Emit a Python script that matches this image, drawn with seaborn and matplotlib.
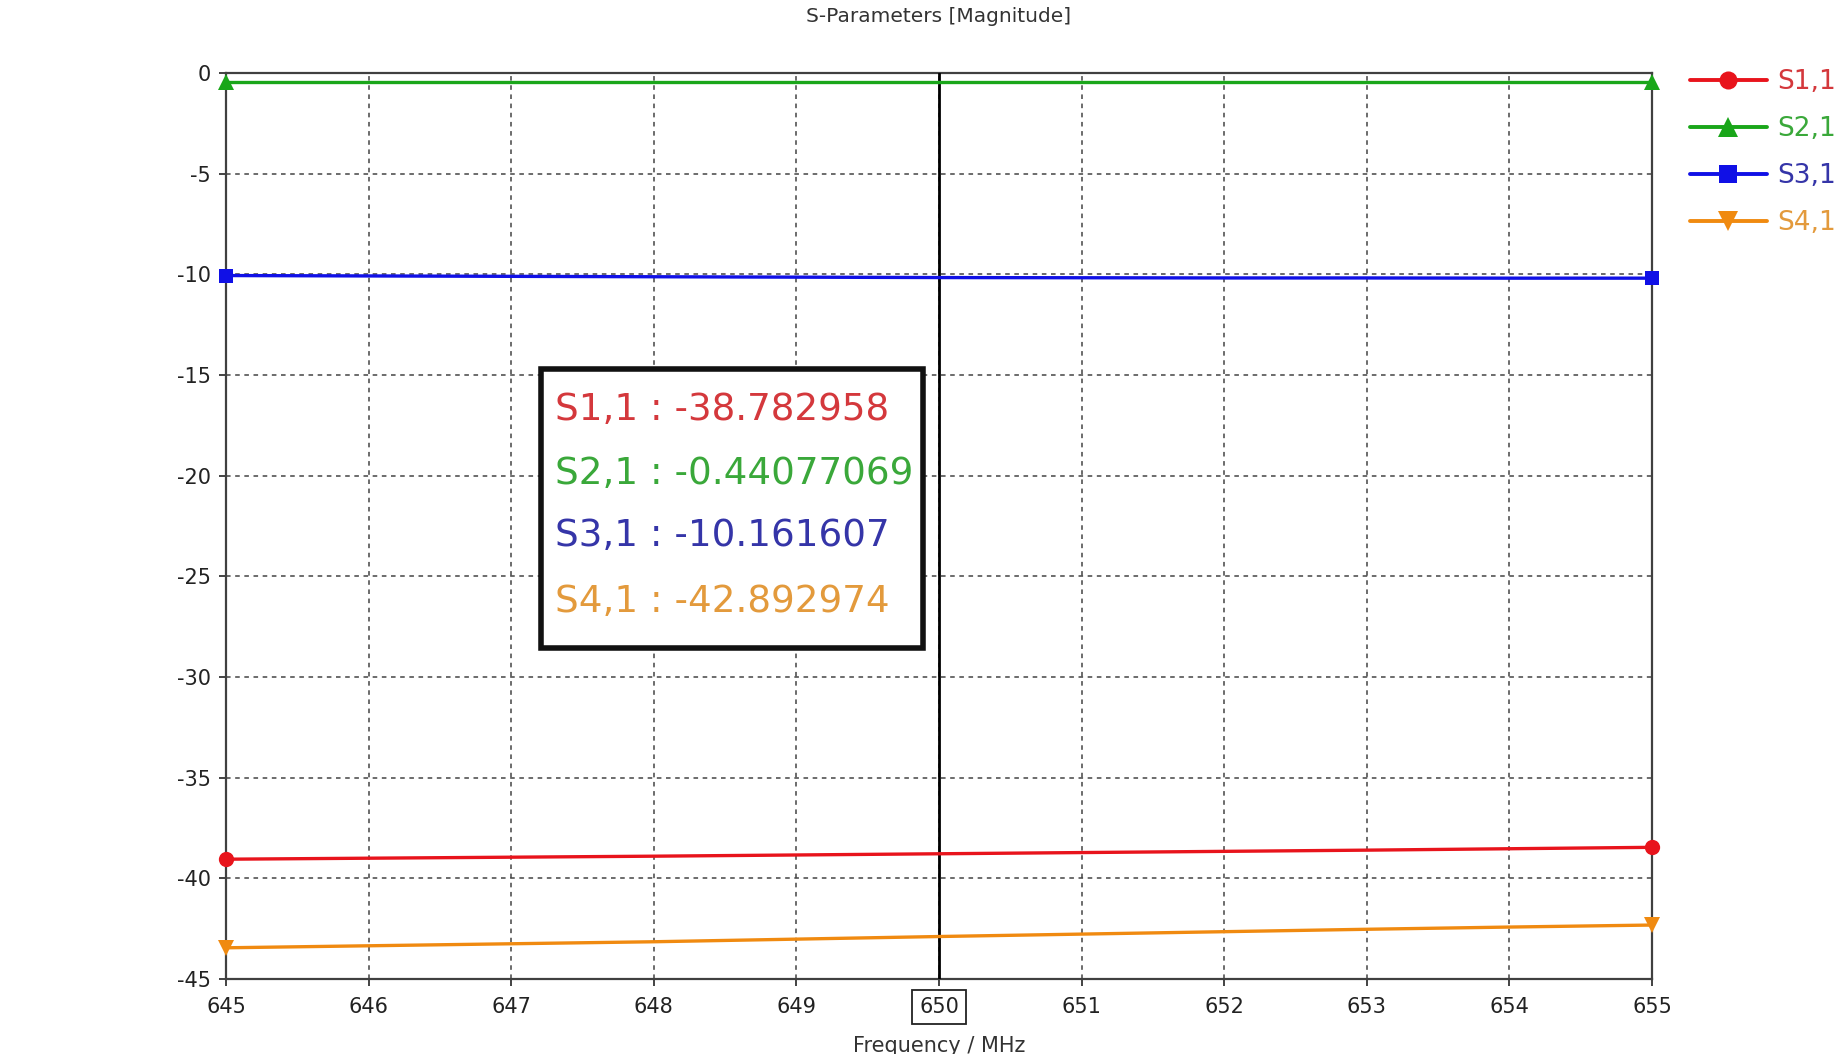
import matplotlib
matplotlib.use("Agg")
import matplotlib.pyplot as plt
from matplotlib.lines import Line2D
from matplotlib.patches import Rectangle
import seaborn as sns
import pandas as pd

# ---------------- data ----------------
freq = [645, 646, 647, 648, 649, 650, 651, 652, 653, 654, 655]
s11 = [-39.05, -39.00, -38.95, -38.90, -38.84, -38.78, -38.72, -38.66, -38.60, -38.53, -38.46]
s21 = [-0.44, -0.44, -0.44, -0.44, -0.44, -0.44, -0.44, -0.44, -0.44, -0.44, -0.44]
s31 = [-10.06, -10.08, -10.10, -10.12, -10.14, -10.16, -10.17, -10.18, -10.18, -10.19, -10.19]
s41 = [-43.45, -43.35, -43.25, -43.15, -43.02, -42.89, -42.77, -42.65, -42.53, -42.42, -42.32]

series_names = ["S1,1", "S2,1", "S3,1", "S4,1"]
series_values = [s11, s21, s31, s41]
marker_readout = ["-38.782958", "-0.44077069", "-10.161607", "-42.892974"]
marker_freq = 650

x_ticks = [645, 646, 647, 648, 649, 650, 651, 652, 653, 654, 655]
x_tick_labels = ["645", "646", "647", "648", "649", "650", "651", "652", "653", "654", "655"]
y_ticks = [0, -5, -10, -15, -20, -25, -30, -35, -40, -45]
y_tick_labels = ["0", "-5", "-10", "-15", "-20", "-25", "-30", "-35", "-40", "-45"]

title = "S-Parameters [Magnitude]"
x_label = "Frequency / MHz"

# ---------------- style ----------------
line_colors = ["#e8141c", "#19a619", "#1010e6", "#f08a10"]
text_colors = ["#d4383c", "#3aa83a", "#3535a8", "#e39a3c"]
markers = ["o", "^", "s", "v"]
msizes = [11, 12, 10.5, 12]

sns.set_theme(style="white")
plt.rcParams["font.family"] = ["DejaVu Sans"]

W, H = 1844, 1054
fig = plt.figure(figsize=(W / 100, H / 100), dpi=100)
L, R, T, B = 226, 1652, 73, 979
ax = fig.add_axes([L / W, 1 - B / H, (R - L) / W, (B - T) / H])

df = pd.DataFrame({"freq": freq * 4,
                   "value": [v for vals in series_values for v in vals],
                   "series": [n for n in series_names for _ in freq]})

for name, col, mk, ms in zip(series_names, line_colors, markers, msizes):
    sub = df[df["series"] == name]
    sns.lineplot(data=sub, x="freq", y="value", ax=ax, color=col, linewidth=2.4,
                 marker=mk, markersize=ms, markeredgewidth=0, markevery=[0, len(sub) - 1],
                 estimator=None, sort=False, legend=False, clip_on=False, zorder=4)

ax.axvline(marker_freq, color="black", linewidth=2.0, zorder=3)

ax.set_xlim(645, 655)
ax.set_ylim(-45, 0)
ax.set_xticks(x_ticks)
ax.set_xticklabels(x_tick_labels)
ax.set_yticks(y_ticks)
ax.set_yticklabels(y_tick_labels)
ax.set_xlabel("")
ax.set_ylabel("")
ax.tick_params(axis="y", labelsize=15, colors="#222222", length=5, width=1.2,
               direction="out", pad=6, left=True)
ax.tick_params(axis="x", labelsize=15, colors="#222222", length=5, width=1.2,
               direction="out", pad=8, bottom=True)
ax.grid(True, color="#444444", linestyle=(0, (3, 3)), linewidth=1.1)
for sp in ax.spines.values():
    sp.set_visible(True)
    sp.set_color("#404040")
    sp.set_linewidth(1.6)

for lab in ax.get_xticklabels():
    if lab.get_text() == str(marker_freq):
        lab.set_bbox(dict(facecolor="white", edgecolor="#222222", boxstyle="square,pad=0.35", linewidth=1.3))

# readout box
bx0, bx1, by0, by1 = 541, 923, 369, 648
rect = Rectangle((bx0 / W, 1 - by1 / H), (bx1 - bx0) / W, (by1 - by0) / H,
                 transform=fig.transFigure, facecolor="white", edgecolor="#111111",
                 linewidth=4, zorder=6)
fig.add_artist(rect)
row_y = [410, 474, 536, 601]
for name, val, col, yy in zip(series_names, marker_readout, text_colors, row_y):
    fig.text(555 / W, 1 - yy / H, f"{name} : {val}", color=col, fontsize=26.8,
             ha="left", va="center", zorder=7)

# legend
handles = [Line2D([0], [0], color=c, linewidth=2.8, marker=m, markersize=s + 2, markeredgewidth=0)
           for c, m, s in zip(line_colors, markers, msizes)]
leg = fig.legend(handles, series_names, loc="upper left",
                 bbox_to_anchor=(1690 / W, 1 - 69 / H), frameon=False, fontsize=19,
                 handlelength=2.9, handletextpad=0.4, labelspacing=0.8, borderpad=0, borderaxespad=0)
for t, c in zip(leg.get_texts(), text_colors):
    t.set_color(c)

fig.text((L + R) / 2 / W, 1 - 17 / H, title, ha="center", va="center", fontsize=14.5, color="#333333")
fig.text((L + R) / 2 / W, 1 - 1046 / H, x_label, ha="center", va="center", fontsize=15, color="#333333")

fig.savefig("out.png", dpi=100, facecolor="white")
